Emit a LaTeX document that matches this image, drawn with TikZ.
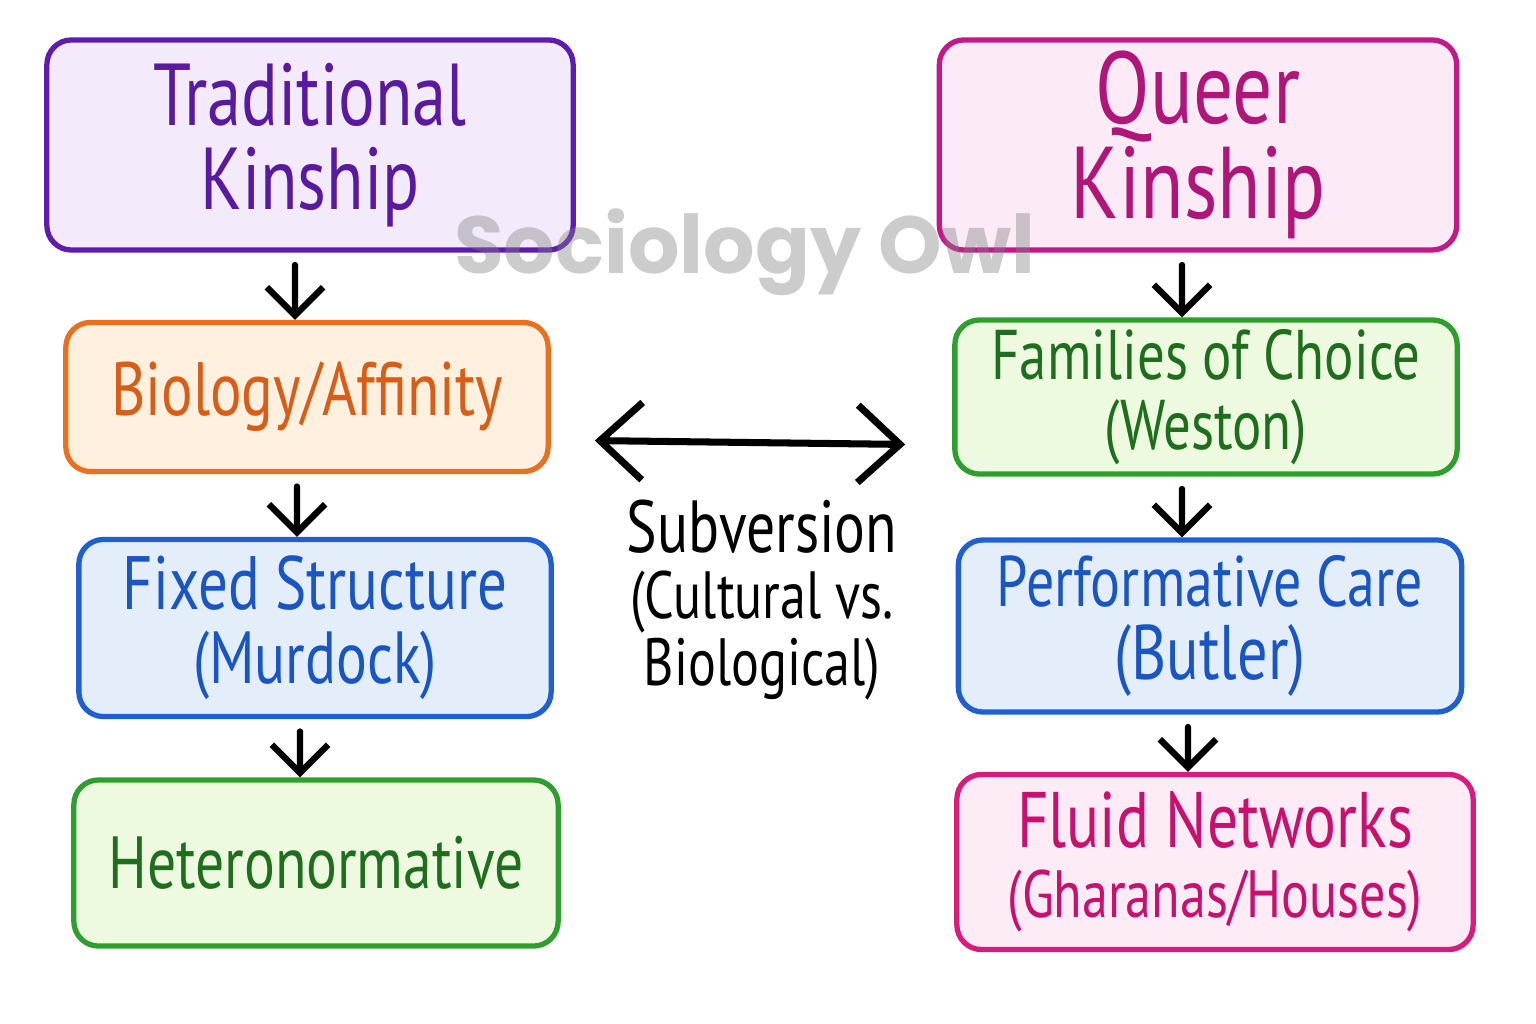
\documentclass[tikz,border=0pt]{standalone}
\usepackage{fontspec}
\usetikzlibrary{arrows.meta}
\newfontfamily\hand[FakeStretch=0.78]{PT Sans}
\newfontfamily\wmfont{Poppins}
% colours of the boxes
\definecolor{tradline}{HTML}{5E1BB0}\definecolor{tradfill}{HTML}{F3EBFC}\definecolor{tradtext}{HTML}{5A1AA0}
\definecolor{bioline}{HTML}{E8701E}\definecolor{biofill}{HTML}{FFF0E0}\definecolor{biotext}{HTML}{D85E18}
\definecolor{blueline}{HTML}{1F5FD0}\definecolor{bluefill}{HTML}{E4EEFB}\definecolor{bluetext}{HTML}{1A55C4}
\definecolor{greenline}{HTML}{2E9E2E}\definecolor{greenfill}{HTML}{EEFADF}\definecolor{greentext}{HTML}{1E6E1E}
\definecolor{queerline}{HTML}{C2198A}\definecolor{queerfill}{HTML}{FCEAF6}\definecolor{queertext}{HTML}{B0157A}
\definecolor{fluidline}{HTML}{D81B7D}\definecolor{fluidfill}{HTML}{FDECF5}\definecolor{fluidtext}{HTML}{C8106E}
\begin{document}
\begin{tikzpicture}[
       x=0.01cm, y=-0.01cm,
       box/.style={rectangle, draw=#1line, fill=#1fill, text=#1text, line width=1.5pt, rounded corners=7pt, align=center, inner sep=0pt},
       arrow/.style={-{Straight Barb[length=8pt,width=16pt]}, line width=1.8pt, line cap=round, black, shorten <=3.5pt},
       dblarrow/.style={{Straight Barb[length=12pt,width=22pt]}-{Straight Barb[length=12pt,width=22pt]}, line width=2pt, line cap=round, black}
   ]
   \useasboundingbox (0,0) rectangle (1536,1024);
   % left column
   \node[box=trad, minimum width=5.26cm, minimum height=2.1cm, font=\hand\fontsize{25}{24}\selectfont] (trad) at (310,145) {Traditional\\Kinship};
   \node[box=bio, minimum width=4.82cm, minimum height=1.49cm, font=\hand\fontsize{21.5}{21}\selectfont] (bio) at (307,397) {Biology/Affinity};
   \node[box=blue, minimum width=4.72cm, minimum height=1.77cm, font=\hand\fontsize{21.5}{21}\selectfont] (fixed) at (315,628) {Fixed Structure\\{\fontsize{21}{21}\selectfont(Murdock)}};
   \node[box=green, minimum width=4.84cm, minimum height=1.66cm, font=\hand\fontsize{21}{21}\selectfont] (hetero) at (316,863) {Heteronormative};
   % right column
   \node[box=queer, minimum width=5.17cm, minimum height=2.1cm, font=\hand\fontsize{29}{27}\selectfont] (queer) at (1198,145) {Queer\\Kinship};
   \node[box=green, minimum width=5.02cm, minimum height=1.54cm, font=\hand\fontsize{20}{20}\selectfont] (choice) at (1206,397) {Families of Choice\\{\fontsize{20}{20}\selectfont(Weston)}};
   \node[box=blue, minimum width=5.03cm, minimum height=1.72cm, font=\hand\fontsize{20.4}{21}\selectfont] (care) at (1210,626) {Performative Care\\{\fontsize{22}{21}\selectfont(Butler)}};
   \node[box=fluid, minimum width=5.16cm, minimum height=1.75cm, font=\hand\fontsize{22.4}{20}\selectfont] (fluid) at (1215,862) {Fluid Networks\\{\fontsize{19}{20}\selectfont(Gharanas/Houses)}};
   % middle label
   \node[align=center, font=\hand\fontsize{21}{19}\selectfont] (subv) at (762,600) {Subversion\\{\fontsize{19}{19}\selectfont(Cultural vs.}\\{\fontsize{19}{19}\selectfont Biological)}};

   \draw[arrow] ([xshift=-0.15cm]trad.south) -- ([xshift=-0.12cm]bio.north);
   \draw[arrow] ([xshift=-0.1cm]bio.south) -- ([xshift=-0.18cm]fixed.north);
   \draw[arrow] ([xshift=-0.15cm]fixed.south) -- ([xshift=-0.16cm]hetero.north);
   \draw[arrow] ([xshift=-0.16cm]queer.south) -- ([xshift=-0.24cm]choice.north);
   \draw[arrow] ([xshift=-0.24cm]choice.south) -- ([xshift=-0.28cm]care.north);
   \draw[arrow] ([xshift=-0.22cm]care.south) -- ([xshift=-0.27cm]fluid.north);
   \draw[dblarrow, shorten <=0.44cm, shorten >=0.47cm] ([yshift=-0.43cm]bio.east) -- ([yshift=-0.48cm]choice.west);

   % watermark
   \node[text=gray, text opacity=0.4, font=\wmfont\bfseries\fontsize{23}{23}\selectfont] (owl) at (745,252) {Sociology Owl};
   \end{tikzpicture}
\end{document}
